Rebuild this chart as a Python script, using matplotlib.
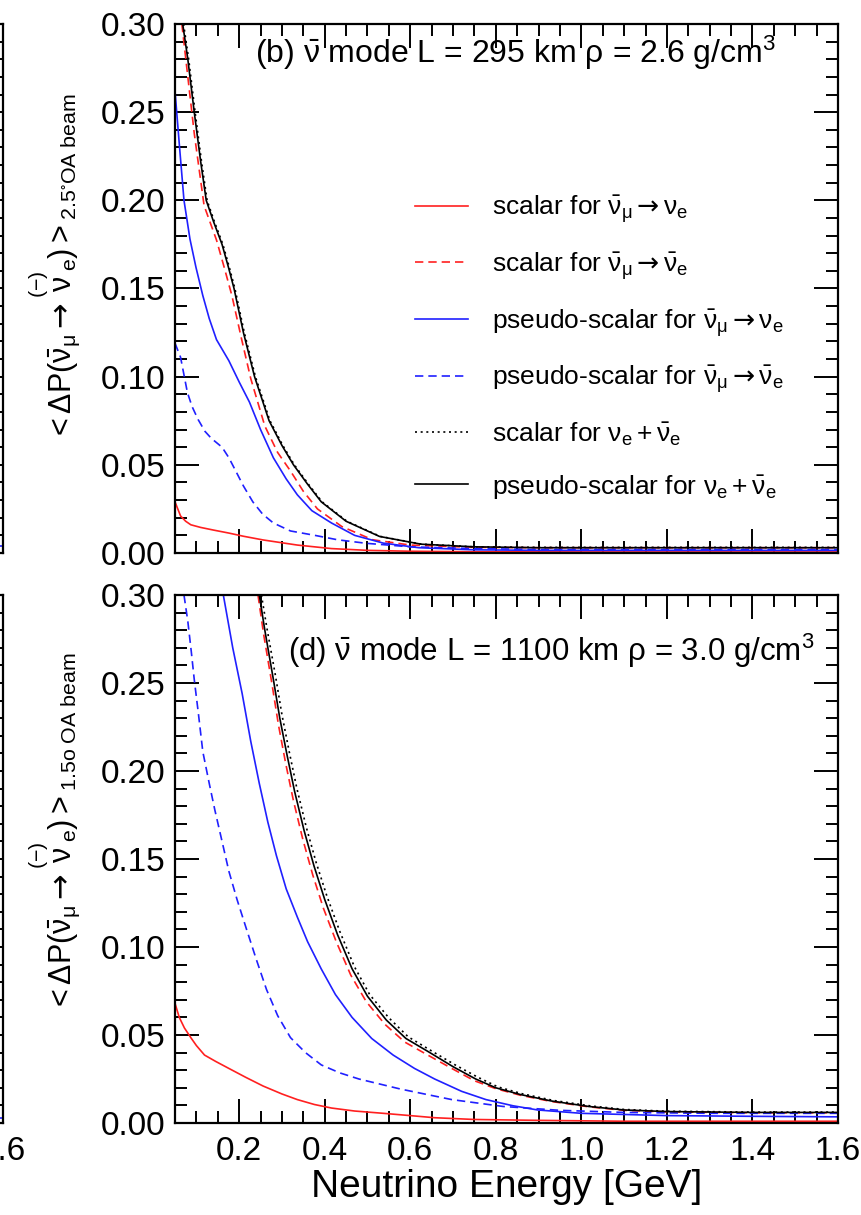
import numpy as np
import matplotlib
matplotlib.use("Agg")
import matplotlib.pyplot as plt
from matplotlib.ticker import MultipleLocator

plt.rcParams['font.family'] = ['Liberation Sans', 'DejaVu Sans']
plt.rcParams['mathtext.fontset'] = 'custom'
plt.rcParams['mathtext.rm'] = 'Liberation Sans'
plt.rcParams['mathtext.it'] = 'Liberation Sans:italic'
plt.rcParams['mathtext.bf'] = 'Liberation Sans:bold'
plt.rcParams['mathtext.sf'] = 'DejaVu Sans'
plt.rcParams['mathtext.default'] = 'regular'

# ---- (b) anti-nu mode, L = 295 km, 2.5 deg off-axis ----
b_sc_e_E = [0.05, 0.063, 0.075, 0.087, 0.11, 0.14, 0.176, 0.21, 0.256, 0.3, 0.336, 0.416, 0.5, 0.6, 0.75, 1.0, 1.3, 1.6]
b_sc_e_P = [0.029, 0.021, 0.018, 0.016, 0.0145, 0.013, 0.0113, 0.0095, 0.0074, 0.0058, 0.0045, 0.0025, 0.0015, 0.001, 0.0007, 0.0006, 0.0006, 0.0006]

b_sc_eb_E = [0.066, 0.080, 0.095, 0.118, 0.147, 0.165, 0.183, 0.205, 0.227, 0.26, 0.29, 0.32, 0.35, 0.383, 0.44, 0.512, 0.6, 0.75, 0.9, 1.1, 1.3, 1.6]
b_sc_eb_P = [0.300, 0.270, 0.238, 0.197, 0.1775, 0.162, 0.146, 0.122, 0.099, 0.072, 0.057, 0.0465, 0.035, 0.025, 0.015, 0.0075, 0.0045, 0.0032, 0.003, 0.003, 0.003, 0.003]

b_ps_e_E = [0.05, 0.06, 0.071, 0.085, 0.099, 0.115, 0.13, 0.147, 0.176, 0.2, 0.224, 0.25, 0.28, 0.31, 0.336, 0.37, 0.416, 0.47, 0.537, 0.62, 0.75, 0.9, 1.1, 1.3, 1.6]
b_ps_e_P = [0.262, 0.232, 0.200, 0.178, 0.162, 0.146, 0.133, 0.121, 0.109, 0.097, 0.0856, 0.070, 0.054, 0.042, 0.033, 0.024, 0.017, 0.010, 0.0056, 0.0030, 0.0018, 0.0015, 0.0015, 0.0015, 0.0015]

b_ps_eb_E = [0.05, 0.063, 0.079, 0.09, 0.104, 0.12, 0.135, 0.16, 0.176, 0.192, 0.21, 0.232, 0.255, 0.28, 0.32, 0.377, 0.43, 0.497, 0.6, 0.75, 0.9, 1.1, 1.3, 1.6]
b_ps_eb_P = [0.119, 0.111, 0.091, 0.083, 0.0757, 0.069, 0.065, 0.060, 0.054, 0.0465, 0.038, 0.029, 0.022, 0.017, 0.0125, 0.010, 0.0075, 0.0055, 0.0035, 0.0025, 0.002, 0.002, 0.002, 0.002]

b_sc_sum_E = [0.070, 0.082, 0.097, 0.112, 0.125, 0.142, 0.162, 0.177, 0.190, 0.212, 0.238, 0.272, 0.302, 0.329, 0.362, 0.394, 0.452, 0.530, 0.627, 0.75, 0.9, 1.1, 1.3, 1.6]
b_sc_sum_P = [0.300, 0.280, 0.250, 0.222, 0.200, 0.188, 0.175, 0.162, 0.150, 0.125, 0.100, 0.075, 0.061, 0.050, 0.039, 0.029, 0.018, 0.0094, 0.0050, 0.0035, 0.0032, 0.0032, 0.0032, 0.0032]

b_ps_sum_E = [0.068, 0.080, 0.095, 0.110, 0.123, 0.140, 0.160, 0.175, 0.188, 0.21, 0.236, 0.27, 0.30, 0.327, 0.36, 0.392, 0.45, 0.528, 0.625, 0.75, 0.9, 1.1, 1.3, 1.6]
b_ps_sum_P = [0.300, 0.280, 0.250, 0.222, 0.200, 0.188, 0.175, 0.162, 0.150, 0.125, 0.100, 0.075, 0.061, 0.050, 0.039, 0.029, 0.018, 0.0094, 0.0050, 0.0035, 0.003, 0.003, 0.003, 0.003]

# ---- (d) anti-nu mode, L = 1100 km, 1.5 deg off-axis ----
d_sc_e_E = [0.05, 0.06, 0.072, 0.087, 0.10, 0.119, 0.145, 0.176, 0.215, 0.256, 0.30, 0.336, 0.376, 0.416, 0.47, 0.537, 0.6, 0.657, 0.75, 0.9, 1.1, 1.3, 1.6]
d_sc_e_P = [0.068, 0.060, 0.054, 0.0485, 0.044, 0.0386, 0.035, 0.031, 0.026, 0.021, 0.0165, 0.0133, 0.0105, 0.0085, 0.0068, 0.0055, 0.0042, 0.003, 0.002, 0.0015, 0.001, 0.001, 0.001]

d_sc_eb_E = [0.244, 0.257, 0.277, 0.292, 0.309, 0.327, 0.349, 0.372, 0.397, 0.427, 0.461, 0.497, 0.541, 0.587, 0.638, 0.697, 0.75, 0.80, 0.857, 0.93, 1.017, 1.1, 1.2, 1.4, 1.6]
d_sc_eb_P = [0.300, 0.278, 0.249, 0.226, 0.204, 0.183, 0.161, 0.141, 0.122, 0.103, 0.084, 0.069, 0.056, 0.046, 0.039, 0.031, 0.024, 0.0195, 0.0158, 0.0122, 0.0092, 0.0072, 0.0063, 0.0058, 0.0058]

d_ps_e_E = [0.163, 0.185, 0.207, 0.227, 0.247, 0.267, 0.287, 0.31, 0.336, 0.36, 0.392, 0.425, 0.464, 0.51, 0.56, 0.61, 0.657, 0.72, 0.777, 0.84, 0.898, 1.0, 1.2, 1.4, 1.6]
d_ps_e_P = [0.300, 0.270, 0.244, 0.217, 0.193, 0.171, 0.152, 0.133, 0.117, 0.103, 0.0875, 0.073, 0.060, 0.048, 0.0386, 0.031, 0.025, 0.018, 0.0133, 0.0098, 0.0074, 0.0055, 0.0042, 0.0038, 0.0035]

d_ps_eb_E = [0.071, 0.08, 0.088, 0.095, 0.105, 0.115, 0.13, 0.143, 0.16, 0.176, 0.195, 0.216, 0.24, 0.264, 0.29, 0.32, 0.355, 0.392, 0.435, 0.48, 0.577, 0.697, 0.817, 0.95, 1.1, 1.3, 1.6]
d_ps_eb_P = [0.300, 0.285, 0.268, 0.252, 0.232, 0.211, 0.193, 0.178, 0.160, 0.143, 0.127, 0.111, 0.093, 0.0758, 0.061, 0.0485, 0.040, 0.033, 0.0285, 0.025, 0.0193, 0.0133, 0.0094, 0.0072, 0.006, 0.0055, 0.0055]

d_sc_sum_E = [0.252, 0.265, 0.285, 0.300, 0.317, 0.335, 0.357, 0.380, 0.405, 0.435, 0.469, 0.505, 0.549, 0.595, 0.646, 0.705, 0.758, 0.805, 0.862, 0.935, 1.022, 1.1, 1.2, 1.4, 1.6]
d_sc_sum_P = [0.300, 0.281, 0.254, 0.232, 0.211, 0.190, 0.168, 0.148, 0.129, 0.109, 0.089, 0.073, 0.060, 0.049, 0.0415, 0.033, 0.026, 0.0205, 0.0166, 0.0128, 0.0097, 0.0077, 0.0067, 0.0062, 0.0062]

d_ps_sum_E = [0.247, 0.26, 0.28, 0.295, 0.312, 0.33, 0.352, 0.375, 0.40, 0.43, 0.464, 0.50, 0.544, 0.59, 0.641, 0.70, 0.753, 0.80, 0.857, 0.93, 1.017, 1.1, 1.2, 1.4, 1.6]
d_ps_sum_P = [0.300, 0.280, 0.252, 0.230, 0.209, 0.188, 0.166, 0.146, 0.127, 0.107, 0.0876, 0.072, 0.0585, 0.048, 0.0407, 0.032, 0.025, 0.020, 0.0162, 0.0125, 0.0094, 0.0074, 0.0065, 0.006, 0.006]

# tails of the neighbouring panels (a)/(c) at the left edge
nb_E = [1.3, 1.45, 1.6]
nb_top_P = [0.004, 0.004, 0.004]
nb_bot_P = [0.003, 0.003, 0.003]

ARR = r'\mathsf{\rightarrow}'
labels = [r'scalar for $\bar{\nu}_{\mu}%s\nu_{e}$' % ARR,
          r'scalar for $\bar{\nu}_{\mu}%s\bar{\nu}_{e}$' % ARR,
          r'pseudo-scalar for $\bar{\nu}_{\mu}%s\nu_{e}$' % ARR,
          r'pseudo-scalar for $\bar{\nu}_{\mu}%s\bar{\nu}_{e}$' % ARR,
          r'scalar for $\nu_{e}+\bar{\nu}_{e}$',
          r'pseudo-scalar for $\nu_{e}+\bar{\nu}_{e}$']

panel_b_text = r'(b) $\bar{\nu}$ mode L = 295 km $\rho$ = 2.6 g/cm$^{3}$'
panel_d_text = r'(d) $\bar{\nu}$ mode L = 1100 km $\rho$ = 3.0 g/cm$^{3}$'
ylabel_b = r'$<\Delta P(\bar{\nu}_{\mu}%s\overset{(-)}{\nu}_{e})>_{2.5^{\circ}OA\ beam}$' % ARR
ylabel_d = r'$<\Delta P(\bar{\nu}_{\mu}%s\overset{(-)}{\nu}_{e})>_{1.5o\ OA\ beam}$' % ARR

styles = [dict(color='#ff2020', ls='-'),
          dict(color='#ff2020', ls=(0, (5, 3))),
          dict(color='#2020ff', ls='-'),
          dict(color='#2020ff', ls=(0, (5, 3))),
          dict(color='black', ls=(0, (1.2, 2.2))),
          dict(color='black', ls='-')]

W, H = 861, 1215
fig = plt.figure(figsize=(W / 100, H / 100), dpi=100)


def frame(ax, xlabels=True, ylabels=True):
    ax.set_xlim(0.05, 1.6)
    ax.set_ylim(0.0, 0.30)
    ax.xaxis.set_major_locator(MultipleLocator(0.2))
    ax.xaxis.set_minor_locator(MultipleLocator(0.05))
    ax.yaxis.set_major_locator(MultipleLocator(0.05))
    ax.yaxis.set_minor_locator(MultipleLocator(0.01))
    ax.tick_params(which='both', direction='in', top=True, right=True, width=1.4)
    ax.tick_params(which='major', length=17, labelsize=24, pad=7)
    ax.tick_params(axis='x', which='major', pad=9)
    ax.tick_params(which='minor', length=8.5)
    ax.tick_params(axis='x', labelbottom=xlabels)
    ax.tick_params(axis='y', labelleft=ylabels)
    ax.xaxis.set_major_formatter(plt.FuncFormatter(lambda v, p: f'{v:.1f}'))
    ax.yaxis.set_major_formatter(plt.FuncFormatter(lambda v, p: f'{v:.2f}'))
    for s in ax.spines.values():
        s.set_linewidth(1.6)


def px_axes(x0, y0, x1, y1):
    return fig.add_axes([x0 / W, 1 - y1 / H, (x1 - x0) / W, (y1 - y0) / H])


ax_b = px_axes(175, 24, 838, 553)
ax_d = px_axes(175, 595, 838, 1123)
nb_top = px_axes(2.5 - 663, 24, 2.5, 553)
nb_bot = px_axes(2.5 - 663, 595, 2.5, 1123)

for ax in (nb_top, nb_bot):
    frame(ax, xlabels=(ax is nb_bot), ylabels=False)
nb_top.plot(nb_E, nb_top_P, color='#2020ff', lw=1.2)
nb_bot.plot(nb_E, nb_bot_P, color='#2020ff', lw=1.2)

series_b = [(b_sc_e_E, b_sc_e_P), (b_sc_eb_E, b_sc_eb_P), (b_ps_e_E, b_ps_e_P),
            (b_ps_eb_E, b_ps_eb_P), (b_sc_sum_E, b_sc_sum_P), (b_ps_sum_E, b_ps_sum_P)]
series_d = [(d_sc_e_E, d_sc_e_P), (d_sc_eb_E, d_sc_eb_P), (d_ps_e_E, d_ps_e_P),
            (d_ps_eb_E, d_ps_eb_P), (d_sc_sum_E, d_sc_sum_P), (d_ps_sum_E, d_ps_sum_P)]

handles = []
for (E, P), st, lab in zip(series_b, styles, labels):
    h, = ax_b.plot(E, P, lw=1.2, label=lab, **st)
    handles.append(h)
for (E, P), st in zip(series_d, styles):
    ax_d.plot(E, P, lw=1.2, **st)

frame(ax_b, xlabels=False)
frame(ax_d)

ax_b.text(0.121, 0.945, panel_b_text, transform=ax_b.transAxes, fontsize=23, va='center')
ax_d.text(0.17, 0.895, panel_d_text, transform=ax_d.transAxes, fontsize=22.5, va='center')

ax_b.legend(handles=handles, loc='upper left', bbox_to_anchor=(0.362, 0.68),
            frameon=False, fontsize=19, handlelength=2.0, handletextpad=0.9,
            labelspacing=0.95, borderpad=0, borderaxespad=0)

ax_b.set_ylabel(ylabel_b, fontsize=22)
ax_b.yaxis.set_label_coords(-0.14, 0.54)
ax_d.set_ylabel(ylabel_d, fontsize=22)
ax_d.yaxis.set_label_coords(-0.14, 0.55)
ax_d.set_xlabel('Neutrino Energy [GeV]', fontsize=28, labelpad=2)

fig.savefig('out.png', dpi=100)
